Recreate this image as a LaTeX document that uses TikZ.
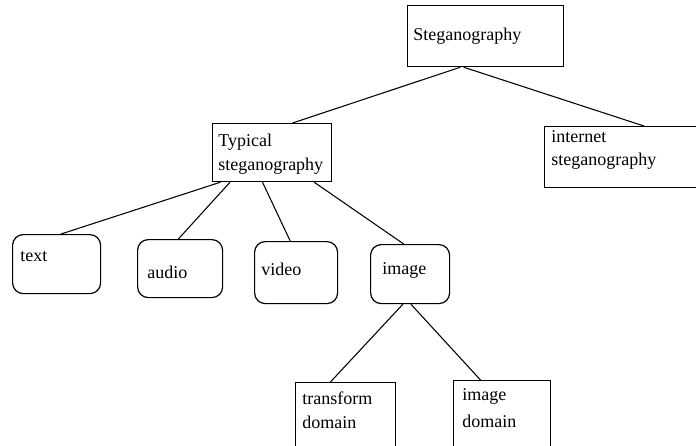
\documentclass[tikz,border=0pt]{standalone}
\usepackage{fontspec}
\setmainfont{Liberation Serif}
\usetikzlibrary{calc}
\begin{document}
\begin{tikzpicture}[x=0.75pt,y=-0.75pt,
  bx/.style 2 args={draw, line width=0.9pt, anchor=north west, inner sep=0pt,
    minimum width=#1*0.75pt, minimum height=#2*0.75pt},
  rbx/.style 2 args={bx={#1}{#2}, rounded corners=8pt},
  lbl/.style={anchor=west, inner sep=0pt, font=\fontsize{13.5}{18}\selectfont},
  conn/.style={line width=0.8pt}]
\useasboundingbox (0,0) rectangle (696,446);
\clip (0,0) rectangle (696,446);
% boxes
\node[bx={156}{61}] (stego) at (407,5) {};
\node[bx={160}{61}] (inet) at (544,126) {};
\node[bx={119}{58}] (typ) at (212,123) {};
\node[rbx={88}{59}] (text) at (12,234) {};
\node[rbx={85}{58}] (audio) at (137,239) {};
\node[rbx={83}{62}] (video) at (254,241) {};
\node[rbx={79}{59}] (image) at (370,244) {};
\node[bx={100}{90}] (trans) at (295,382) {};
\node[bx={97}{90}] (imgdom) at (453,380) {};
% labels
\node[lbl] (t1) at (413,36) {Steganography};
\node[lbl] (t2) at (551,137) {internet};
\node[lbl] (t3) at (551,161) {steganography};
\node[lbl] (t4) at (218,142) {Typical};
\node[lbl] (t5) at (218,166) {steganography};
\node[lbl] (t6) at (20,257) {text};
\node[lbl] (t7) at (147,272) {audio};
\node[lbl] (t8) at (261,269) {video};
\node[lbl] (t9) at (382,270) {image};
\node[lbl] (t10) at (302,398) {transform};
\node[lbl] (t11) at (302,422) {domain};
\node[lbl] (t12) at (462,396) {image};
\node[lbl] (t13) at (462,421) {domain};
% connectors
\draw[conn] ($(stego.south west)!0.34!(stego.south east)$) -- ($(typ.north west)!0.67!(typ.north east)$);
\draw[conn] ($(stego.south west)!0.36!(stego.south east)$) -- ($(inet.north west)!0.62!(inet.north east)$);
\draw[conn] ($(typ.south west)!0.07!(typ.south east)$) -- ($(text.north west)!0.55!(text.north east)$);
\draw[conn] ($(typ.south west)!0.15!(typ.south east)$) -- ($(audio.north west)!0.48!(audio.north east)$);
\draw[conn] ($(typ.south west)!0.42!(typ.south east)$) -- ($(video.north west)!0.43!(video.north east)$);
\draw[conn] ($(typ.south west)!0.85!(typ.south east)$) -- ($(image.north west)!0.42!(image.north east)$);
\draw[conn] ($(image.south west)!0.41!(image.south east)$) -- ($(trans.north west)!0.35!(trans.north east)$);
\draw[conn] ($(image.south west)!0.51!(image.south east)$) -- ($(imgdom.north west)!0.28!(imgdom.north east)$);
\end{tikzpicture}
\end{document}
